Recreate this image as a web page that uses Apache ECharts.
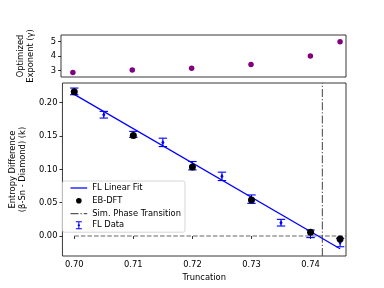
<!DOCTYPE html>
<html><head><meta charset="utf-8">
<script src="https://cdn.jsdelivr.net/npm/echarts@6/dist/echarts.min.js"></script>
<style>html,body{margin:0;padding:0;background:#fff}#c{width:384px;height:288px}</style>
</head><body><div id="c"></div>
<script>
const gammaTrunc = [0.700, 0.710, 0.720, 0.730, 0.740, 0.745];
const gammaValues = [2.86, 3.03, 3.16, 3.41, 4.00, 4.98];
const ebTrunc = [0.700, 0.710, 0.720, 0.730, 0.740, 0.745];
const ebValues = [0.2165, 0.151, 0.1035, 0.054, 0.0055, -0.0045];
const flTrunc = [0.700, 0.705, 0.710, 0.715, 0.720, 0.725, 0.730, 0.735, 0.740, 0.745];
const flValues = [0.217, 0.182, 0.1525, 0.1405, 0.1055, 0.0895, 0.0553, 0.0200, 0.0033, -0.0098];
const flErrors = [0.005, 0.005, 0.0045, 0.0063, 0.0063, 0.0063, 0.0063, 0.005, 0.0057, 0.0063];
const fitTrunc = [0.700, 0.745];
const fitValues = [0.2125, -0.019];
const phaseTransition = 0.742;
const xTicks = [0.70, 0.71, 0.72, 0.73, 0.74];
const gammaTicks = [3, 4, 5];
const entropyTicks = [0.00, 0.05, 0.10, 0.15, 0.20];

const FONT = 'DejaVu Sans';
const FS = 8.33;
const xMin = 0.698, xMax = 0.746;
const yMin = -0.030, yMax = 0.2296;

const chart = echarts.init(document.getElementById('c'), null, {renderer: 'canvas'});
const tickStyle = {show: true, length: 3, lineStyle: {color: '#000', width: 0.8}};
chart.setOption({
  animation: false,
  textStyle: {fontFamily: FONT, fontSize: FS, color: '#000'},
  grid: [
    {left: 61, top: 35, width: 285, height: 42, show: true, borderColor: '#222', borderWidth: 0.9},
    {left: 61, top: 83, width: 285, height: 173, show: true, borderColor: '#222', borderWidth: 0.9}
  ],
  xAxis: [
    {gridIndex: 0, type: 'value', min: xMin, max: xMax, axisLine: {show: false},
     axisTick: {show: false}, axisLabel: {show: false}, splitLine: {show: false}},
    {gridIndex: 1, type: 'value', min: xMin, max: xMax, axisLine: {show: false},
     axisTick: Object.assign({customValues: xTicks}, tickStyle),
     axisLabel: {customValues: xTicks, formatter: v => v.toFixed(2), fontFamily: FONT, fontSize: FS, color: '#000', margin: 5},
     splitLine: {show: false},
     name: 'Truncation', nameLocation: 'middle', nameGap: 17,
     nameTextStyle: {fontFamily: FONT, fontSize: FS, color: '#000'}}
  ],
  yAxis: [
    {gridIndex: 0, type: 'value', min: 2.55, max: 5.45, axisLine: {show: false},
     axisTick: Object.assign({customValues: gammaTicks}, tickStyle),
     axisLabel: {customValues: gammaTicks, formatter: v => String(v), fontFamily: FONT, fontSize: FS, color: '#000', margin: 5},
     splitLine: {show: false},
     name: 'Optimized\nExponent (\u03b3)', nameLocation: 'middle', nameRotate: 90, nameGap: 25,
     nameTextStyle: {fontFamily: FONT, fontSize: FS, color: '#000', lineHeight: 10}},
    {gridIndex: 1, type: 'value', min: yMin, max: yMax, axisLine: {show: false},
     axisTick: Object.assign({customValues: entropyTicks}, tickStyle),
     axisLabel: {customValues: entropyTicks, formatter: v => v.toFixed(2), fontFamily: FONT, fontSize: FS, color: '#000', margin: 5},
     splitLine: {show: false},
     name: 'Entropy Difference\n(\u03b2-Sn - Diamond) (k)', nameLocation: 'middle', nameRotate: 90, nameGap: 28,
     nameTextStyle: {fontFamily: FONT, fontSize: FS, color: '#000', lineHeight: 10}}
  ],
  legend: {
    left: 62.5, top: 181, orient: 'vertical',
    padding: [3, 4, 3, 8], itemGap: 3.6, itemWidth: 16.7, itemHeight: 8,
    borderColor: '#ccc', borderWidth: 0.8, borderRadius: 2, backgroundColor: 'rgba(255,255,255,0.8)',
    textStyle: {fontFamily: FONT, fontSize: FS, color: '#000'},
    data: [
      {name: 'FL Linear Fit', icon: 'path://M0,0h16.7v1.25h-16.7z'},
      {name: 'EB-DFT', icon: 'circle', itemStyle: {color: '#000', opacity: 1, borderColor: '#fff', borderWidth: 2.4}},
      {name: 'Sim. Phase Transition', icon: 'path://M0,0h8v1.25h-8zM10,0h1.25v1.25h-1.25zM13.25,0h3.45v1.25h-3.45z'},
      {name: 'FL Data', icon: 'path://M0,0h6v1h-6zM2.5,1h1v6h-1zM0,7h6v1h-6zM3,2l1.3,2l-1.3,2l-1.3,-2z'}
    ]
  },
  series: [
    {name: 'gamma', type: 'scatter', xAxisIndex: 0, yAxisIndex: 0, symbolSize: 5.5,
     itemStyle: {color: '#800080', opacity: 1}, data: gammaTrunc.map((t, i) => [t, gammaValues[i]])},
    {name: 'zero', type: 'line', xAxisIndex: 1, yAxisIndex: 1, symbol: 'none', z: 1,
     lineStyle: {color: '#666', width: 1.1, type: [4.6, 2]},
     data: [[0.700, 0], [xMax, 0]]},
    {name: 'Sim. Phase Transition', type: 'line', xAxisIndex: 1, yAxisIndex: 1, symbol: 'none', z: 1,
     itemStyle: {color: '#555'},
     lineStyle: {color: '#555', width: 1.1, type: [8, 2, 1.25, 2]},
     data: [[phaseTransition, yMin], [phaseTransition, yMax]]},
    {name: 'FL Linear Fit', type: 'line', xAxisIndex: 1, yAxisIndex: 1, symbol: 'none', z: 2,
     itemStyle: {color: '#0000ff'}, lineStyle: {color: '#0000ff', width: 1.25},
     data: fitTrunc.map((t, i) => [t, fitValues[i]])},
    {name: 'FL Data', type: 'custom', xAxisIndex: 1, yAxisIndex: 1, z: 3,
     itemStyle: {color: '#0000ff'},
     encode: {x: 0, y: 1},
     data: flTrunc.map((t, i) => [t, flValues[i], flErrors[i]]),
     renderItem: function (params, api) {
       const x = api.value(0), y = api.value(1), e = api.value(2);
       const top = api.coord([x, y + e]);
       const bot = api.coord([x, y - e]);
       const c = api.coord([x, y]);
       const cw = 4.2;
       const st = {stroke: '#0000ff', lineWidth: 1.1, fill: null};
       return {type: 'group', children: [
         {type: 'line', shape: {x1: top[0], y1: top[1], x2: bot[0], y2: bot[1]}, style: st},
         {type: 'line', shape: {x1: top[0] - cw, y1: top[1], x2: top[0] + cw, y2: top[1]}, style: st},
         {type: 'line', shape: {x1: bot[0] - cw, y1: bot[1], x2: bot[0] + cw, y2: bot[1]}, style: st},
         {type: 'polygon', shape: {points: [[c[0], c[1] - 2.5], [c[0] + 1.6, c[1]], [c[0], c[1] + 2.5], [c[0] - 1.6, c[1]]]},
          style: {fill: '#0000ff'}}
       ]};
     }},
    {name: 'EB-DFT', type: 'scatter', xAxisIndex: 1, yAxisIndex: 1, symbolSize: 7, z: 4,
     itemStyle: {color: '#000', opacity: 1}, data: ebTrunc.map((t, i) => [t, ebValues[i]])}
  ]
});
</script>
</body></html>
